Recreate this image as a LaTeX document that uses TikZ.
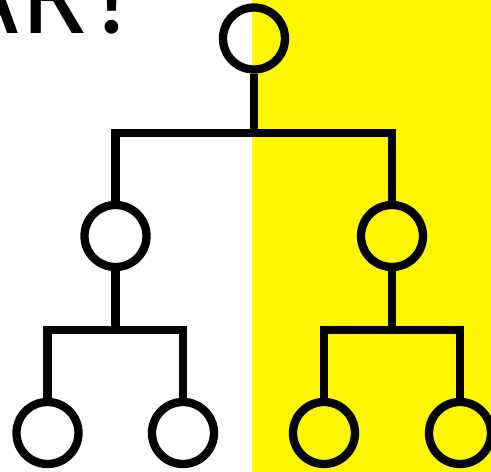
\documentclass[tikz,border=0pt]{standalone}
\usepackage{fontspec}
\setmainfont{Poppins}
\definecolor{hl}{RGB}{255,247,0}
\begin{document}
\begin{tikzpicture}[x=1pt,y=-1pt,
  edge/.style={line width=8.3pt,line join=miter,line cap=butt},
  ball/.style={circle,draw,line width=8.3pt,minimum size=62pt,inner sep=0pt}]
\useasboundingbox (0,0) rectangle (491,472);
\fill[white] (0,0) rectangle (252,472);
\fill[hl] (252,0) rectangle (491,472);
\begin{scope}
\clip (0,0) rectangle (491,472);
\node[anchor=base east,inner sep=0pt,font=\fontsize{112}{120}\selectfont] (title) at (149,33) {AR?};
\node[ball] (r) at (254,38.5) {};
\node[ball] (a) at (115.5,236) {};
\node[ball] (b) at (392,236) {};
\node[ball] (a1) at (47.5,433) {};
\node[ball] (a2) at (183,433) {};
\node[ball] (b1) at (324,433) {};
\node[ball] (b2) at (460,433) {};
\draw[edge] (r.south) -- (254,133);
\draw[edge] (a.north) |- (254,133) -| (b.north);
\draw[edge] (a.south) -- (115.5,330);
\draw[edge] (a1.north) |- (115.5,330) -| (a2.north);
\draw[edge] (b.south) -- (392,330);
\draw[edge] (b1.north) |- (392,330) -| (b2.north);
\end{scope}
\end{tikzpicture}
\end{document}
